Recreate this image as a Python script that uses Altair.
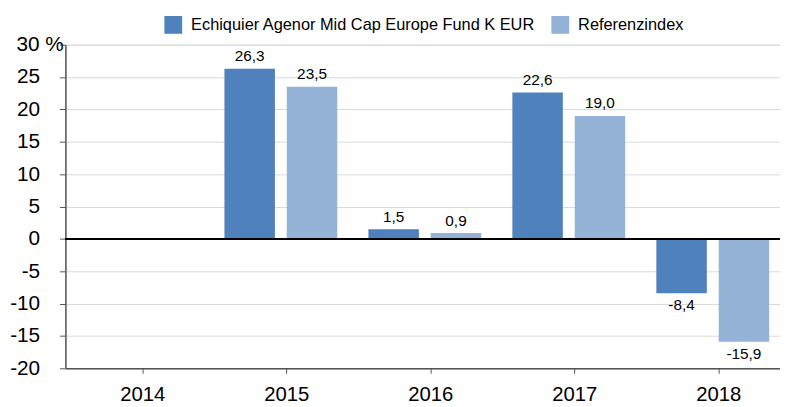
import altair as alt
import pandas as pd

years = [2014, 2015, 2016, 2017, 2018]
fund_name = "Echiquier Agenor Mid Cap Europe Fund K EUR"
ref_name = "Referenzindex"
fund_values = [None, 26.3, 1.5, 22.6, -8.4]
ref_values = [None, 23.5, 0.9, 19.0, -15.9]
y_ticks = [-20, -15, -10, -5, 0, 5, 10, 15, 20, 25, 30]

rows = []
for y, f, r in zip(years, fund_values, ref_values):
    rows.append({"year": y, "series": fund_name, "value": f})
    rows.append({"year": y, "series": ref_name, "value": r})
df = pd.DataFrame(rows)

FONT = "Liberation Sans"
colors = ["#4F81BD", "#95B3D7"]

x_enc = alt.X(
    "year:Q",
    scale=alt.Scale(domain=[2013.5, 2013.5 + 722 / 147.5], nice=False, zero=False),
    axis=alt.Axis(values=years, format="d", title=None, grid=False,
                  labelFontSize=20.5, labelColor="#000", labelPadding=12,
                  tickSize=5, tickColor="#555", domainColor="#555", domainWidth=1.5,
                  labelFont=FONT),
)
y_scale = alt.Scale(domain=[-20, 30], nice=False)
y_axis = alt.Axis(
    values=y_ticks, tickCount=11, labelOverlap=False, title=None, grid=True,
    gridColor="#d9d9d9", gridWidth=1,
    labelExpr="datum.value == 30 ? '30 %' : '' + datum.value",
    labelAlign={"condition": {"test": "datum.value == 30", "value": "left"}, "value": "right"},
    labelPadding={"condition": {"test": "datum.value == 30", "value": 44}, "value": 20},
    labelFontSize=21, labelColor="#000", labelFont=FONT,
    tickSize=6, tickColor="#555", domainColor="#555", domainWidth=1.5,
)
y_enc = alt.Y("value:Q", scale=y_scale, axis=y_axis)

base = alt.Chart(df).transform_filter("isValid(datum.value)")

offsets = {fund_name: -37, ref_name: 26}
layers = []
for s in [fund_name, ref_name]:
    src = base.transform_filter(alt.datum.series == s)
    bar = src.mark_bar(width=51, xOffset=offsets[s]).encode(
        x=x_enc,
        y=y_enc,
        color=alt.Color(
            "series:N",
            scale=alt.Scale(domain=[fund_name, ref_name], range=colors),
            legend=alt.Legend(
                title=None, orient="none", legendX=100, legendY=-29, direction="horizontal",
                symbolType="square", symbolSize=324, symbolStrokeWidth=0,
                labelFontSize=16.5, labelFont=FONT, labelColor="#000", labelLimit=500,
                labelOffset=9, columnPadding=16, padding=0,
            ),
        ),
    )
    layers.append(bar)
    lab = src.transform_calculate(
        lbl="replace(replace(format(datum.value, '.1f'), '.', ','), '\u2212', '-')"
    )
    pos = lab.transform_filter("datum.value >= 0").mark_text(
        baseline="alphabetic", dy=-7.5, xOffset=offsets[s], fontSize=15.5, font=FONT, color="#000"
    ).encode(x=x_enc, y=y_enc, text="lbl:N")
    neg = lab.transform_filter("datum.value < 0").mark_text(
        baseline="alphabetic", dy=17, xOffset=offsets[s], fontSize=15.5, font=FONT, color="#000"
    ).encode(x=x_enc, y=y_enc, text="lbl:N")
    layers += [pos, neg]

zero = alt.Chart(df).mark_rule(color="#000", strokeWidth=1.2).encode(y=alt.datum(0))
layers.append(zero)

chart = alt.layer(*layers).properties(
    width=722, height=327,
    autosize=alt.AutoSizeParams(type="none"),
    padding={"left": 58, "top": 35, "right": 0, "bottom": 36},
).configure_view(stroke=None).configure(font=FONT)

chart.save("out.html", embed_options={"renderer": "svg", "actions": False})
